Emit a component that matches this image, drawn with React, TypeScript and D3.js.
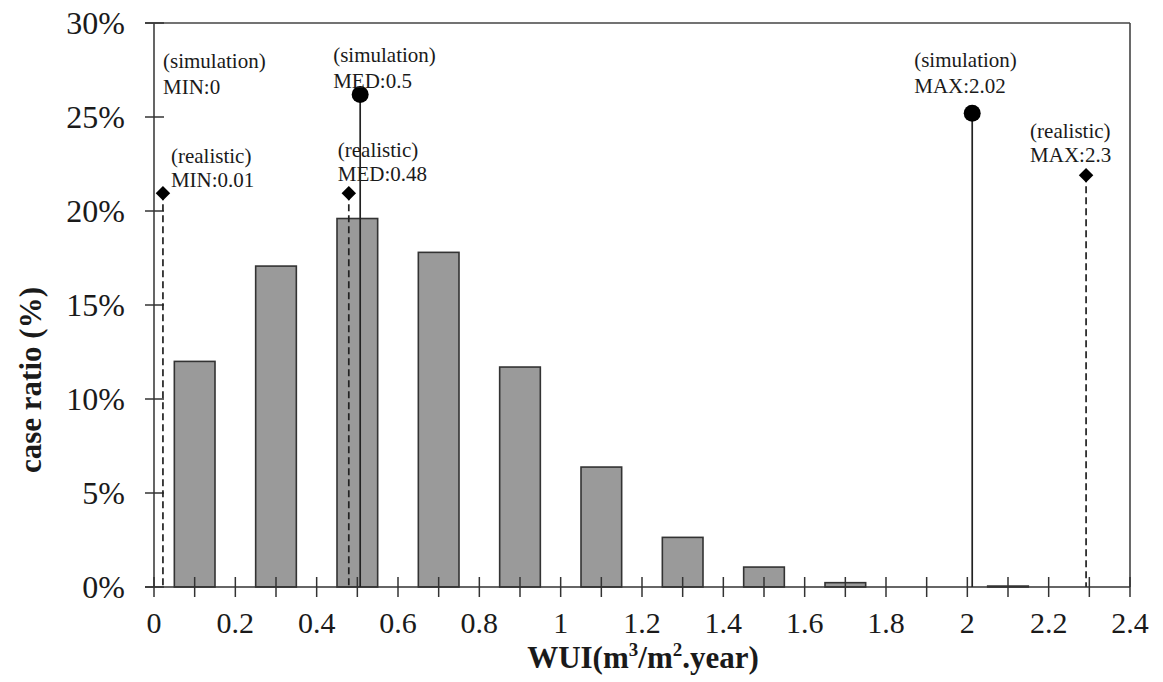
import React from "react";
import * as d3 from "d3";

// histogram of WUI cases (bins of 0.2, bar centred on bin middle)
const binCenters = [0.1, 0.3, 0.5, 0.7, 0.9, 1.1, 1.3, 1.5, 1.7, 1.9, 2.1, 2.3];
const caseRatio = [12.0, 17.07, 19.6, 17.8, 11.7, 6.38, 2.64, 1.06, 0.23, 0, 0.05, 0];

// reference markers (x = WUI, y = marker height in %)
const simNames = ["MIN:0", "MED:0.5", "MAX:2.02"];
const simX = [0, 0.507, 2.012];
const simY = [null, 26.2, 25.2];

const realNames = ["MIN:0.01", "MED:0.48", "MAX:2.3"];
const realX = [0.022, 0.479, 2.292];
const realY = [20.95, 20.95, 21.9];

const yTicks = [0, 5, 10, 15, 20, 25, 30];
const xMinorTicks = d3.range(0, 25).map((i) => i / 10);
const xLabels = d3.range(0, 13).map((i) => i / 5);

// label placement relative to the marker (layout only)
const simLabelPos = [
  { dx: 9, dy: 0, top: 68 },
  { dx: -27, dy: -32 },
  { dx: -58, dy: -46 },
];
const realLabelPos = [
  { dx: 8, dy: -30 },
  { dx: -11, dy: -36 },
  { dx: -56, dy: -37 },
];

const W = 1163;
const H = 682;
const serif = "'Liberation Serif', 'Times New Roman', serif";
const ink = "#1a1a1a";

export default function App() {
  const x = d3.scaleLinear().domain([0, 2.4]).range([154, 1130]);
  const y = d3.scaleLinear().domain([0, 30]).range([587, 23]);
  const bw = x(0.1) - x(0);

  // square turned 45deg -> diamond as drawn in the figure
  const diamond = d3.symbol(d3.symbolSquare, 105)();

  return (
    <svg
      width={W}
      height={H}
      style={{ position: "absolute", left: 0, top: 0, background: "#fff" }}
      fontFamily={serif}
    >
      {/* bars */}
      {binCenters.map((c, i) =>
        caseRatio[i] > 0 ? (
          <rect
            key={"b" + i}
            x={x(c) - bw / 2}
            y={y(caseRatio[i])}
            width={bw}
            height={y(0) - y(caseRatio[i])}
            fill="#9a9a9a"
            stroke="#333"
            strokeWidth={1.6}
          />
        ) : null
      )}

      {/* frame */}
      <line x1={x(0) - 9} x2={x(2.4)} y1={y(30)} y2={y(30)} stroke="#444" strokeWidth={1.6} />
      <line x1={x(2.4)} x2={x(2.4)} y1={y(30)} y2={y(0)} stroke="#444" strokeWidth={1.6} />
      <line x1={x(0)} x2={x(0)} y1={y(30)} y2={y(0)} stroke="#555" strokeWidth={1.8} />
      <line x1={x(0) - 9} x2={x(2.4)} y1={y(0)} y2={y(0)} stroke="#333" strokeWidth={1.6} />

      {/* y ticks */}
      {yTicks.map((t) => (
        <g key={"y" + t}>
          <line x1={x(0) - 9} x2={x(0) + 10} y1={y(t)} y2={y(t)} stroke="#333" strokeWidth={1.5} />
          <text
            x={125}
            y={y(t)}
            dy="0.33em"
            textAnchor="end"
            fontSize={32}
            fill={ink}
          >
            {t + "%"}
          </text>
        </g>
      ))}

      {/* x ticks */}
      {xMinorTicks.map((t) => (
        <line
          key={"xt" + t}
          x1={x(t)}
          x2={x(t)}
          y1={y(0) - 10}
          y2={y(0) + 10}
          stroke="#333"
          strokeWidth={1.5}
        />
      ))}
      {xLabels.map((t) => (
        <text key={"xl" + t} x={x(t)} y={633} textAnchor="middle" fontSize={30} fill={ink}>
          {String(+t.toFixed(1))}
        </text>
      ))}

      {/* realistic markers: dashed */}
      {realX.map((v, i) => (
        <g key={"r" + i}>
          <line
            x1={x(v)}
            x2={x(v)}
            y1={y(realY[i])}
            y2={y(0)}
            stroke="#222"
            strokeWidth={1.7}
            strokeDasharray="7,4"
          />
          <path
            d={diamond}
            transform={`translate(${x(v)},${y(realY[i])}) rotate(45)`}
            fill="#000"
          />
          <text
            x={x(v) + realLabelPos[i].dx}
            y={y(realY[i]) + realLabelPos[i].dy}
            fontSize={21}
            fill={ink}
          >
            <tspan>(realistic)</tspan>
            <tspan x={x(v) + realLabelPos[i].dx} dy={24}>
              {realNames[i]}
            </tspan>
          </text>
        </g>
      ))}

      {/* simulation markers: solid */}
      {simX.map((v, i) => {
        const hy = simY[i];
        const lx = x(v) + simLabelPos[i].dx;
        const ly = hy == null ? simLabelPos[i].top : y(hy) + simLabelPos[i].dy;
        return (
          <g key={"s" + i}>
            {hy != null && (
              <>
                <line x1={x(v)} x2={x(v)} y1={y(hy)} y2={y(0)} stroke="#222" strokeWidth={1.7} />
                <circle cx={x(v)} cy={y(hy)} r={8.5} fill="#000" />
              </>
            )}
            <text x={lx} y={ly} fontSize={21} fill={ink}>
              <tspan>(simulation)</tspan>
              <tspan x={lx} dy={26}>
                {simNames[i]}
              </tspan>
            </text>
          </g>
        );
      })}

      {/* axis titles */}
      <text
        transform="translate(41,380) rotate(-90)"
        textAnchor="middle"
        fontSize={31}
        fontWeight="bold"
        fill={ink}
      >
        case ratio (%)
      </text>
      <text x={643} y={668} textAnchor="middle" fontSize={31} fontWeight="bold" fill={ink}>
        WUI(m
        <tspan fontSize={19} dy={-12}>
          3
        </tspan>
        <tspan dy={12}>/m</tspan>
        <tspan fontSize={19} dy={-12}>
          2
        </tspan>
        <tspan dy={12}>.year)</tspan>
      </text>
    </svg>
  );
}
